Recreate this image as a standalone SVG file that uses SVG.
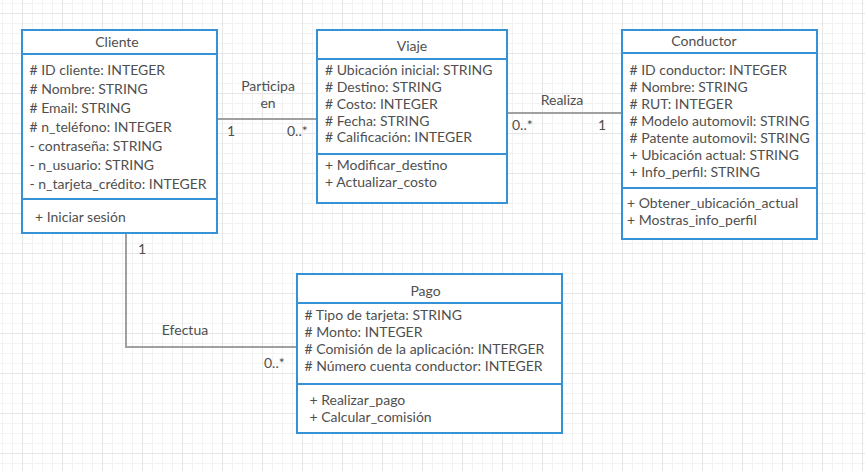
<svg xmlns="http://www.w3.org/2000/svg" width="865" height="471" viewBox="0 0 865 471">
<defs>
<pattern id="minor" patternUnits="userSpaceOnUse" x="2" y="3" width="10" height="10">
<path d="M0.5 0V10M0 0.5H10" stroke="#f2f2f2" stroke-width="1" fill="none"/>
</pattern>
<pattern id="major" patternUnits="userSpaceOnUse" x="22" y="13" width="40" height="40">
<path d="M0.5 0V40M0 0.5H40" stroke="#e6e6e6" stroke-width="1" fill="none"/>
</pattern>
<style>
.box{fill:#ffffff;stroke:#3592d6;stroke-width:2}
.sep{stroke:#3592d6;stroke-width:2;fill:none}
.t{font-family:Lato,"Open Sans","Liberation Sans",sans-serif;font-size:14px;fill:#4f4f4f}
.h{text-anchor:middle}
.conn{stroke:#a0a0a0;stroke-width:2;fill:none}
</style>
</defs>
<rect width="865" height="471" fill="#ffffff"/>
<rect width="865" height="471" fill="url(#minor)"/>
<rect width="865" height="471" fill="url(#major)"/>

<g id="connectors">
<polyline class="conn" points="217,119 317,119"/>
<polyline class="conn" points="507,113 622,113"/>
<polyline class="conn" points="126,233 126,347 297,347"/>
<text class="t h" x="268" y="91">Participa</text>
<text class="t h" x="268" y="107.5">en</text>
<text class="t" x="227" y="135.5">1</text>
<text class="t" x="287" y="135.5">0..*</text>
<text class="t h" x="562" y="104.5">Realiza</text>
<text class="t" x="512" y="130">0..*</text>
<text class="t" x="598" y="130">1</text>
<text class="t" x="138" y="253.5">1</text>
<text class="t h" x="185" y="334.5">Efectua</text>
<text class="t" x="264" y="367.5">0..*</text>
</g>

<g id="cliente">
<rect class="box" x="22" y="30" width="195" height="203"/>
<line class="sep" x1="22" y1="54" x2="217" y2="54"/>
<line class="sep" x1="22" y1="199" x2="217" y2="199"/>
<text class="t h" x="117" y="47">Cliente</text>
<text class="t" x="29.5" y="74.5"># ID cliente: INTEGER</text>
<text class="t" x="29.5" y="93.5"># Nombre: STRING</text>
<text class="t" x="29.5" y="112.5"># Email: STRING</text>
<text class="t" x="29.5" y="131.5"># n_teléfono: INTEGER</text>
<text class="t" x="29.5" y="150.5">- contraseña: STRING</text>
<text class="t" x="29.5" y="169.5">- n_usuario: STRING</text>
<text class="t" x="29.5" y="188.5">- n_tarjeta_crédito: INTEGER</text>
<text class="t" x="35" y="221.5">+ Iniciar sesión</text>
</g>

<g id="viaje">
<rect class="box" x="317" y="30" width="190" height="173"/>
<line class="sep" x1="317" y1="59" x2="507" y2="59"/>
<line class="sep" x1="317" y1="154" x2="507" y2="154"/>
<text class="t h" x="412" y="50.5">Viaje</text>
<text class="t" x="325" y="75"># Ubicación inicial: STRING</text>
<text class="t" x="325" y="92"># Destino: STRING</text>
<text class="t" x="325" y="108.5"># Costo: INTEGER</text>
<text class="t" x="325" y="125.5"># Fecha: STRING</text>
<text class="t" x="325" y="142"># Calificación: INTEGER</text>
<text class="t" x="325" y="170">+ Modificar_destino</text>
<text class="t" x="325" y="186.5">+ Actualizar_costo</text>
</g>

<g id="conductor">
<rect class="box" x="622" y="30" width="195" height="209"/>
<line class="sep" x1="622" y1="53" x2="817" y2="53"/>
<line class="sep" x1="622" y1="188" x2="817" y2="188"/>
<text class="t h" x="704" y="46">Conductor</text>
<text class="t" x="629.5" y="75"># ID conductor: INTEGER</text>
<text class="t" x="629.5" y="92"># Nombre: STRING</text>
<text class="t" x="629.5" y="108.5"># RUT: INTEGER</text>
<text class="t" x="629.5" y="125.5"># Modelo automovil: STRING</text>
<text class="t" x="629.5" y="142.5"># Patente automovil: STRING</text>
<text class="t" x="629.5" y="159.5">+ Ubicación actual: STRING</text>
<text class="t" x="629.5" y="176.5">+ Info_perfil: STRING</text>
<text class="t" x="627" y="208">+ Obtener_ubicación_actual</text>
<text class="t" x="627" y="225">+ Mostras_info_perfil</text>
</g>

<g id="pago">
<rect class="box" x="297" y="274" width="265" height="159"/>
<line class="sep" x1="297" y1="303" x2="562" y2="303"/>
<line class="sep" x1="297" y1="384" x2="562" y2="384"/>
<text class="t h" x="425.5" y="296">Pago</text>
<text class="t" x="304.5" y="320"># Tipo de tarjeta: STRING</text>
<text class="t" x="304.5" y="337"># Monto: INTEGER</text>
<text class="t" x="304.5" y="354"># Comisión de la aplicación: INTERGER</text>
<text class="t" x="304.5" y="371"># Número cuenta conductor: INTEGER</text>
<text class="t" x="309.5" y="405">+ Realizar_pago</text>
<text class="t" x="309.5" y="422">+ Calcular_comisión</text>
</g>
</svg>
